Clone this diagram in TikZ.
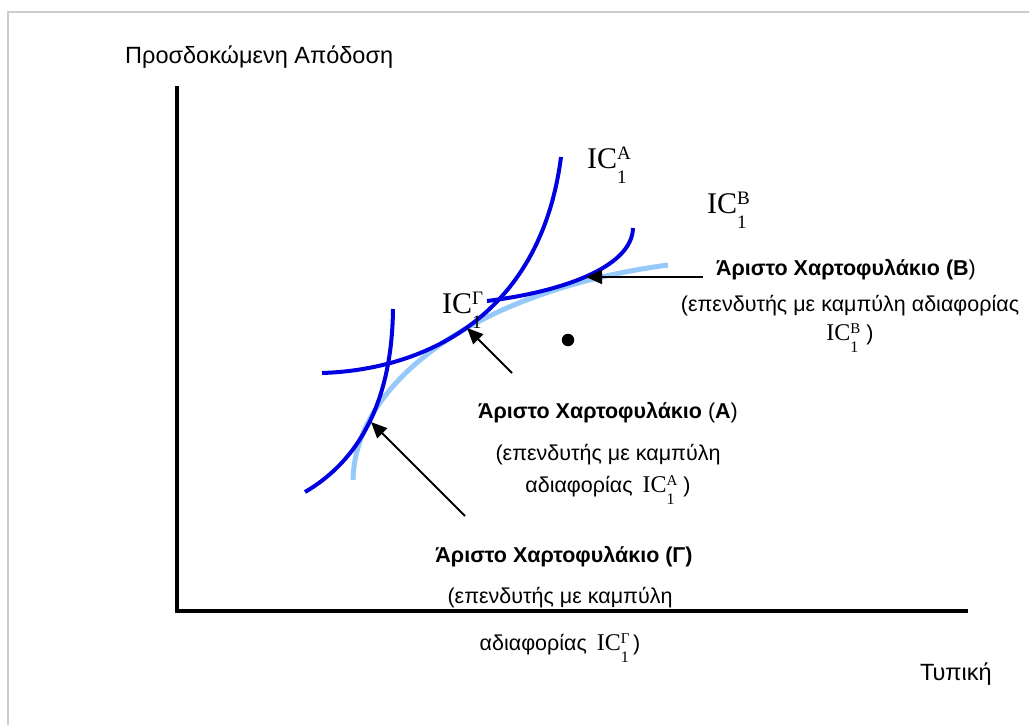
\documentclass[tikz,border=0pt]{standalone}
\usepackage{fontspec}
\setmainfont{Liberation Sans}
\newfontfamily\ser{Liberation Serif}
\usetikzlibrary{arrows.meta}
\definecolor{icblue}{RGB}{0,0,225}
\definecolor{frontblue}{RGB}{150,200,250}
\definecolor{framegray}{RGB}{205,205,205}
\newcommand\ICbig[1]{{\ser\fontsize{30}{30}\selectfont IC\rlap{\raisebox{-15pt}{\fontsize{19}{19}\selectfont 1}}\raisebox{9pt}{\fontsize{19}{19}\selectfont #1}}}
\newcommand\ICsm[1]{{\ser\fontsize{24}{24}\selectfont IC\rlap{\raisebox{-12pt}{\fontsize{16}{16}\selectfont 1}}\raisebox{7pt}{\fontsize{15}{15}\selectfont #1}}}
\begin{document}
\begin{tikzpicture}[x=1pt,y=-1pt,
  lab/.style={inner sep=0pt, anchor=base west, font=\fontsize{23.5}{28}\selectfont},
  iclab/.style={inner sep=0pt, anchor=base west},
  txt/.style={inner sep=0pt, anchor=base, font=\fontsize{21.5}{26}\selectfont},
  ttl/.style={inner sep=0pt, anchor=base, font=\fontsize{21.5}{26}\selectfont\bfseries},
  icurve/.style={draw=icblue, line width=4pt},
  front/.style={draw=frontblue, line width=5pt},
  axisline/.style={line width=4.5pt, line join=miter},
  ptr/.style={-{Triangle[length=16pt,width=14pt]}, line width=1.8pt},
]
\useasboundingbox (0,0) rectangle (1029,725);
% frame
\draw[framegray, line width=2pt] (8,725) -- (8,12) -- (1029,12);
% axes
\draw[axisline] (177,86) -- (177,611) -- (968,611);
% efficient frontier
\draw[front] (353,480) .. controls (355,380) and (480,290) .. (668,265);
% indifference curves
\draw[icurve] (322,373) .. controls (420,370) and (540,320) .. (561,157);
\draw[icurve] (393,309) .. controls (392,400) and (360,460) .. (305,492);
\draw[icurve] (487,301) .. controls (560,292) and (632,268) .. (633,228);
% dot
\node[circle, fill, inner sep=0pt, minimum size=12.5pt] (dot) at (568,340) {};
% axis labels
\node[lab] (ylab) at (125,64) {Προσδοκώμενη Απόδοση};
\node[lab] (xlab) at (920,680) {Τυπική};
% curve labels
\node[iclab] (icA) at (587,168) {\ICbig{A}};
\node[iclab] (icB) at (707,213) {\ICbig{B}};
\node[iclab] (icG) at (442,313) {\ICbig{Γ}};
% portfolio B
\node[ttl] (tB) at (846,275) {Άριστο Χαρτοφυλάκιο (B\textmd{)}};
\node[txt] (dB1) at (850,311) {(επενδυτής με καμπύλη αδιαφορίας};
\node[txt] (dB2) at (850,340) {\ICsm{B} )};
% portfolio A
\node[ttl] (tA) at (608,418) {Άριστο Χαρτοφυλάκιο \textmd{(}A\textmd{)}};
\node[txt] (dA1) at (608,460) {(επενδυτής με καμπύλη};
\node[txt] (dA2) at (608,492) {αδιαφορίας\hspace{4pt} \ICsm{A} )};
% portfolio Gamma
\node[ttl] (tG) at (564,562) {Άριστο Χαρτοφυλάκιο (Γ)};
\node[txt] (dG1) at (560,603) {(επενδυτής με καμπύλη};
\node[txt] (dG2) at (560,650) {αδιαφορίας\hspace{4pt} \ICsm{Γ}\,)};
% arrows
\coordinate (tipB) at (586,277); \coordinate (tailB) at (703,277);
\coordinate (tipA) at (467,328); \coordinate (tailA) at (512,373);
\coordinate (tipG) at (371,422); \coordinate (tailG) at (465,516);
\draw[ptr] (tailB) -- (tipB);
\draw[ptr] (tailA) -- (tipA);
\draw[ptr] (tailG) -- (tipG);
\end{tikzpicture}
\end{document}
